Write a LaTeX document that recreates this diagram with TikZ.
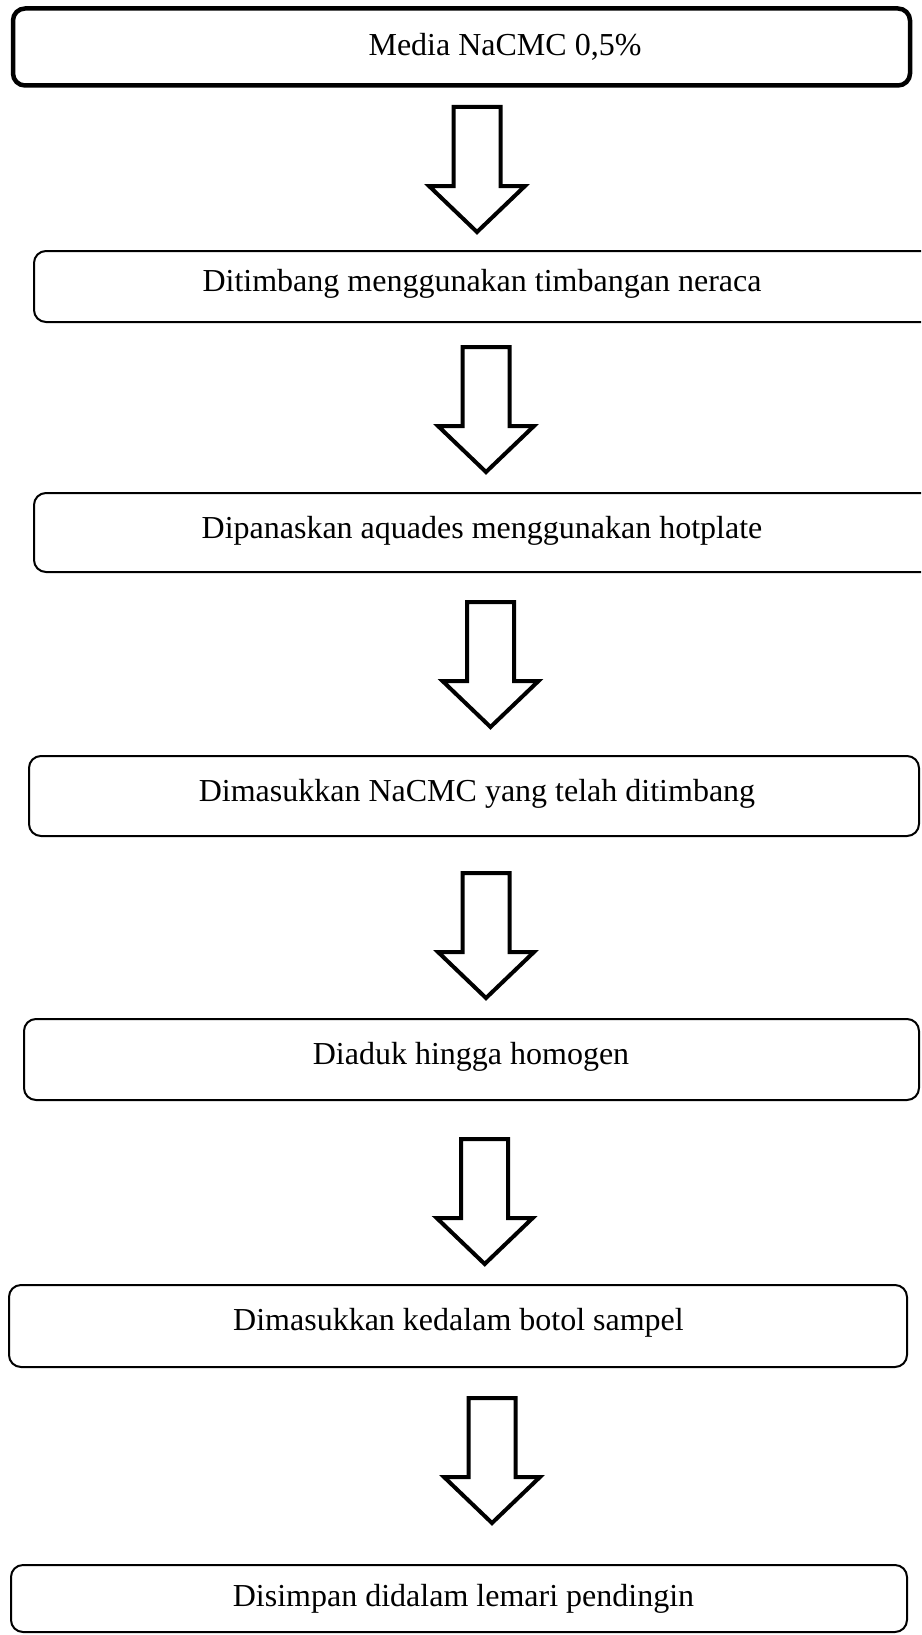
\documentclass[tikz,border=0pt]{standalone}
\usepackage{fontspec}
\setmainfont{Liberation Serif}
\begin{document}
\begin{tikzpicture}[x=1pt,y=-1pt,
  boxbase/.style={draw=black, rounded corners=12pt, inner sep=0pt, fill=none},
  firstbox/.style={boxbase, line width=4.5pt},
  stepbox/.style={boxbase, line width=2pt},
  steptext/.style={anchor=base, inner sep=0pt, font=\fontsize{32}{38}\selectfont},
  arrowline/.style={draw=black, line width=4pt, line join=miter, fill=white}]
\useasboundingbox (0,0) rectangle (921,1635);
\clip (0,0) rectangle (921,1635);
\fill[white] (0,0) rectangle (921,1635);
% boxes
\node[firstbox, minimum width=897pt, minimum height=77pt] (b1) at (461.5,47) {};
\node[stepbox, minimum width=906pt, minimum height=71pt] (b2) at (487,286.5) {};
\node[stepbox, minimum width=906pt, minimum height=79pt] (b3) at (487,532.5) {};
\node[stepbox, minimum width=890pt, minimum height=80pt] (b4) at (474,796) {};
\node[stepbox, minimum width=895pt, minimum height=81pt] (b5) at (471.5,1059.5) {};
\node[stepbox, minimum width=898pt, minimum height=82pt] (b6) at (458,1326) {};
\node[stepbox, minimum width=896pt, minimum height=67pt] (b7) at (459,1598.5) {};
% texts
\node[steptext] (t1) at (505,55.5) {Media NaCMC 0,5\%};
\node[steptext] (t2) at (482,291) {Ditimbang menggunakan timbangan neraca};
\node[steptext] (t3) at (482,538) {Dipanaskan aquades menggunakan hotplate};
\node[steptext] (t4) at (477,801.5) {Dimasukkan NaCMC yang telah ditimbang};
\node[steptext] (t5) at (471,1064.5) {Diaduk hingga homogen};
\node[steptext] (t6) at (458.5,1330) {Dimasukkan kedalam botol sampel};
\node[steptext] (t7) at (463.5,1606.5) {Disimpan didalam lemari pendingin};
% block arrows
\coordinate (a1) at (477,107);
\coordinate (a2) at (486,347);
\coordinate (a3) at (490.5,602);
\coordinate (a4) at (486,873);
\coordinate (a5) at (484.7,1139);
\coordinate (a6) at (492,1398);
\foreach \a in {a1,a2,a3,a4,a5,a6}{
  \draw[arrowline, shift={(\a)}] (-23.5,0) -- (23.5,0) -- (23.5,79) -- (48,79)
    -- (0,125) -- (-48,79) -- (-23.5,79) -- cycle;
}
\end{tikzpicture}
\end{document}
